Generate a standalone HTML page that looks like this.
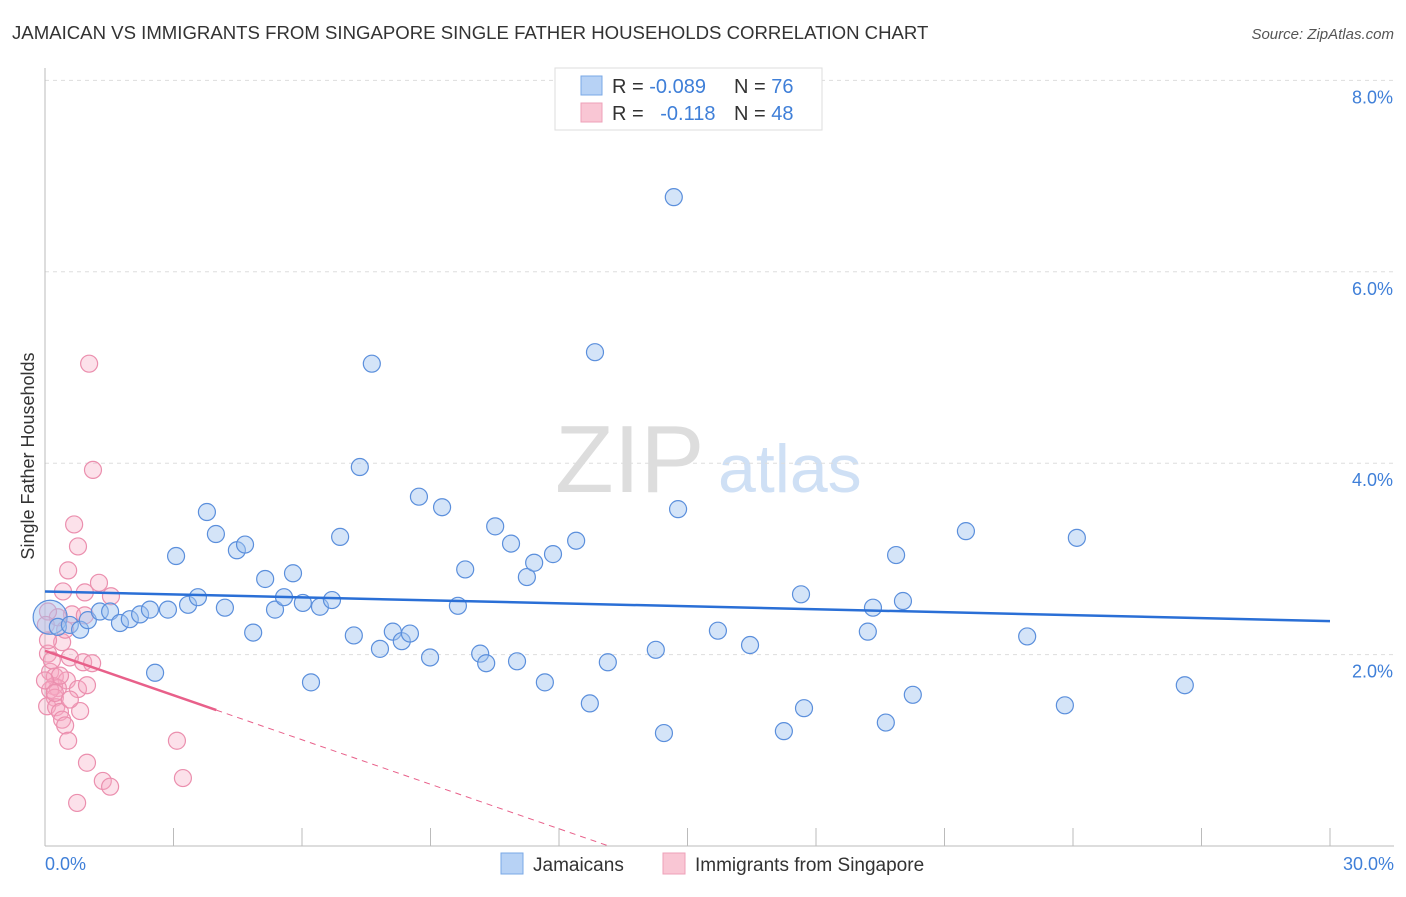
<!DOCTYPE html>
<html><head><meta charset="utf-8"><style>
body{margin:0;background:#fff;font-family:"Liberation Sans",sans-serif;}
svg text{font-family:"Liberation Sans",sans-serif;}
</style></head><body>
<svg id="chart" width="1406" height="892" xmlns="http://www.w3.org/2000/svg">
<text x="12" y="39" font-size="18.6" fill="#333">JAMAICAN VS IMMIGRANTS FROM SINGAPORE SINGLE FATHER HOUSEHOLDS CORRELATION CHART</text>
<text x="1394" y="39" font-size="15" fill="#555" text-anchor="end" font-style="italic">Source: ZipAtlas.com</text>
<text x="555" y="492" font-size="96" fill="#ddd" font-family="Liberation Serif,serif">ZIP</text>
<text x="718" y="492" font-size="68" fill="#cfe0f5">atlas</text>
<g id="grid"></g><g id="axes"></g><g id="pink"></g><g id="blue"></g><g id="trends"></g>
<text transform="translate(34,456) rotate(-90)" font-size="18" fill="#333" text-anchor="middle">Single Father Households</text>
<text x="45" y="870" font-size="18" fill="#3f7fd8">0.0%</text>
<text x="1394" y="870" font-size="18" fill="#3f7fd8" text-anchor="end">30.0%</text>
<g>
<rect x="555" y="68" width="267" height="62" fill="#fff" stroke="#ddd"/>
<rect x="581" y="76" width="21" height="19" fill="#b7d2f5" stroke="#7aa8e6"/>
<rect x="581" y="103" width="21" height="19" fill="#f9c6d4" stroke="#eea0b8"/>
<text x="612" y="93" font-size="20" fill="#333">R = <tspan fill="#3f7fd8">-0.089</tspan></text>
<text x="734" y="93" font-size="20" fill="#333">N = <tspan fill="#3f7fd8">76</tspan></text>
<text x="612" y="120" font-size="20" fill="#333">R = <tspan fill="#3f7fd8" dx="11">-0.118</tspan></text>
<text x="734" y="120" font-size="20" fill="#333">N = <tspan fill="#3f7fd8">48</tspan></text>
</g>
<g>
<rect x="501" y="853" width="22" height="21" fill="#b7d2f5" stroke="#7aa8e6"/>
<text x="533" y="871" font-size="19" fill="#333">Jamaicans</text>
<rect x="663" y="853" width="22" height="21" fill="#f9c6d4" stroke="#eea0b8"/>
<text x="695" y="871" font-size="19" fill="#333">Immigrants from Singapore</text>
</g>
</svg>
<script>
const yTicks=[2,4,6,8];
const yTickLabels=["2.0%","4.0%","6.0%","8.0%"];
const xTicks=[0,3,6,9,12,15,18,21,24,27,30];
const blueX=[0.12,0.30,0.58,0.82,1.00,1.28,1.52,1.75,1.98,2.22,2.45,2.57,2.87,3.06,3.34,3.57,3.78,3.99,4.20,4.48,4.67,4.86,5.14,5.37,5.58,5.79,6.02,6.21,6.42,6.70,6.89,7.21,7.35,7.63,7.82,8.12,8.33,8.52,8.73,8.99,9.27,9.64,9.81,10.16,10.30,10.51,10.88,11.02,11.25,11.42,11.67,11.86,12.40,12.72,12.84,13.14,14.26,14.45,14.68,14.78,15.71,16.46,17.25,17.65,17.72,19.21,19.33,19.63,19.87,20.03,20.26,21.50,22.93,23.81,24.09,26.61];
const blueY=[2.39,2.29,2.31,2.26,2.36,2.45,2.45,2.33,2.37,2.42,2.47,1.81,2.47,3.03,2.52,2.60,3.49,3.26,2.49,3.09,3.15,2.23,2.79,2.47,2.60,2.85,2.54,1.71,2.50,2.57,3.23,2.20,3.96,5.04,2.06,2.24,2.14,2.22,3.65,1.97,3.54,2.51,2.89,2.01,1.91,3.34,3.16,1.93,2.81,2.96,1.71,3.05,3.19,1.49,5.16,1.92,2.05,1.18,6.78,3.52,2.25,2.10,1.20,2.63,1.44,2.24,2.49,1.29,3.04,2.56,1.58,3.29,2.19,1.47,3.22,1.68];
const pinkX=[1.03,1.12,0.68,0.77,0.54,0.42,0.93,1.26,1.54,0.63,0.93,0.30,0.07,0.40,0.07,0.58,0.89,1.10,0.12,0.23,0.51,0.21,0.30,0.77,0.98,0.12,0.23,0.05,0.26,0.82,0.35,0.40,0.47,0.54,3.08,0.98,1.35,1.52,3.22,0.75,0.07,0.16,0.35,0.00,0.23,0.58,0.02,0.47];
const pinkY=[5.04,3.93,3.36,3.13,2.88,2.66,2.65,2.75,2.61,2.42,2.41,2.39,2.45,2.13,2.01,1.97,1.92,1.91,1.82,1.77,1.73,1.67,1.65,1.64,1.68,1.63,1.55,1.46,1.45,1.41,1.40,1.32,1.26,1.10,1.10,0.87,0.68,0.62,0.71,0.45,2.15,1.94,1.78,1.73,1.60,1.53,2.31,2.26];
const blueTrend=[2.66,2.35];
const pinkTrend=[2.04,1.42];
const pinkTrendSolidEnd=4.0;
const NS="http://www.w3.org/2000/svg";
const xs=v=>45+v/30*1285;
const ys=v=>846-v*95.7;
function mk(tag,attrs,parent){const e=document.createElementNS(NS,tag);for(const k in attrs)e.setAttribute(k,attrs[k]);document.getElementById(parent).appendChild(e);return e;}
yTicks.forEach((t,i)=>{
 const l=mk('line',{x1:45,x2:1394,y1:ys(t),y2:ys(t),stroke:'#ddd','stroke-dasharray':'4,4'},'grid');
 
 
 const tx=mk('text',{x:1393,y:ys(t)+23,'font-size':18,fill:'#3f7fd8','text-anchor':'end'},'grid');
 tx.textContent=yTickLabels[i];
 
 
});
const ya=mk('line',{x1:45,x2:45,y1:68,y2:846,stroke:'#bbb'},'axes');


const xa=mk('line',{x1:45,x2:1394,y1:846,y2:846,stroke:'#bbb'},'axes');


xTicks.forEach(t=>{
 const l=mk('line',{x1:xs(t),x2:xs(t),y1:828,y2:846,stroke:'#bbb'},'axes');
 
 
});
pinkX.forEach((x,i)=>{
 const c=mk('circle',{cx:xs(x),cy:ys(pinkY[i]),r:8.5,fill:'rgba(245,170,195,0.35)',stroke:'#eb8fae','stroke-width':1.2},'pink');
 
 
});
blueX.forEach((x,i)=>{
 const c=mk('circle',{cx:xs(x),cy:ys(blueY[i]),r:i===0?17:8.5,fill:'rgba(160,195,240,0.45)',stroke:'#5b8fdc','stroke-width':1.2},'blue');
 
 
});
const bt=mk('line',{x1:xs(0),y1:ys(blueTrend[0]),x2:xs(30),y2:ys(blueTrend[1]),stroke:'#2a6fd6','stroke-width':2.5},'trends');


const slope=(pinkTrend[1]-pinkTrend[0])/pinkTrendSolidEnd;
const zeroX=-pinkTrend[0]/slope;
const pt=mk('line',{x1:xs(0),y1:ys(pinkTrend[0]),x2:xs(pinkTrendSolidEnd),y2:ys(pinkTrend[1]),stroke:'#e8608a','stroke-width':2.5},'trends');


const pd=mk('line',{x1:xs(pinkTrendSolidEnd),y1:ys(pinkTrend[1]),x2:xs(zeroX),y2:ys(0),stroke:'#e8608a','stroke-width':1,'stroke-dasharray':'6,5'},'trends');


</script>
</body></html>
